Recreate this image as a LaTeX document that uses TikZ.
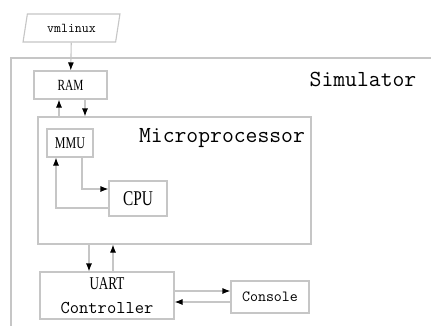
\documentclass[tikz,border=0pt]{standalone}
\usepackage{fontspec}
\usetikzlibrary{arrows.meta,shapes.geometric}
\newfontfamily\condserif[FakeStretch=0.73]{Liberation Serif}
\begin{document}
\begin{tikzpicture}[x=1pt,y=-1pt,
  line width=1.1pt,
  box/.style={draw=gray!45,line width=1.1pt,rectangle,inner sep=0pt},
  arr/.style={draw=gray!45,line width=1.1pt,-{Latex[length=8pt,width=6pt,color=black]}},
  bigmono/.style={font=\ttfamily\fontsize{23}{23}\selectfont},
]
\useasboundingbox (0,0) rectangle (431,325);
\fill[white] (0,0) rectangle (431,325);
% Simulator frame (open to right and bottom)
\draw[gray!45] (431,58) -- (11,58) -- (11,326);
\node[bigmono] (simlab) at (363,79) {Simulator};
% vmlinux parallelogram
\node[trapezium,draw=gray!45,trapezium left angle=74,trapezium right angle=106,
      trapezium stretches=true,minimum width=97pt,minimum height=28pt,inner sep=0pt,
      font=\ttfamily\fontsize{13.5}{13.5}\selectfont] (vm) at (71.5,28) {vmlinux};
% RAM
\node[box,minimum width=73pt,minimum height=28pt,font=\condserif\fontsize{15.5}{15.5}\selectfont] (ram) at (70.5,85) {RAM};
% Microprocessor
\node[box,minimum width=273pt,minimum height=127pt] (mp) at (174.5,180.5) {};
\node[bigmono] (mplab) at (222,138) {Microprocessor};
% MMU and CPU
\node[box,minimum width=46pt,minimum height=28pt,font=\condserif\fontsize{16.5}{16.5}\selectfont] (mmu) at (70,143) {MMU};
\node[box,minimum width=58pt,minimum height=35pt,font=\condserif\fontsize{21}{21}\selectfont] (cpu) at (138,198.5) {CPU};
% UART and Console
\node[box,minimum width=134pt,minimum height=47pt,align=center,
      font=\fontsize{18}{24}\selectfont] (uart) at (107,295.5)
  {{\condserif UART}\\{\ttfamily Controller}};
\node[box,minimum width=78pt,minimum height=32pt,font=\ttfamily\fontsize{15.5}{15.5}\selectfont] (con) at (270,297) {Console};
% helper coordinates
\coordinate (xa) at (59,0);
\coordinate (xb) at (85,0);
\coordinate (xc) at (82,0);
\coordinate (xd) at (56,0);
\coordinate (xe) at (89,0);
\coordinate (xf) at (113,0);
\coordinate (ya) at (0,291);
\coordinate (yb) at (0,302);
% connectors
\draw[arr] (vm) -- (ram);
\draw[arr] (xa |- mp.north) -- (xa |- ram.south);
\draw[arr] (xb |- ram.south) -- (xb |- mp.north);
\draw[arr] (xc |- mmu.south) |- ([yshift=9.5pt]cpu.west);
\draw[arr] ([yshift=-9.5pt]cpu.west) -| (xd |- mmu.south);
\draw[arr] (xe |- mp.south) -- (xe |- uart.north);
\draw[arr] (xf |- uart.north) -- (xf |- mp.south);
\draw[arr] (uart.east |- ya) -- (con.west |- ya);
\draw[arr] (con.west |- yb) -- (uart.east |- yb);
\end{tikzpicture}
\end{document}
